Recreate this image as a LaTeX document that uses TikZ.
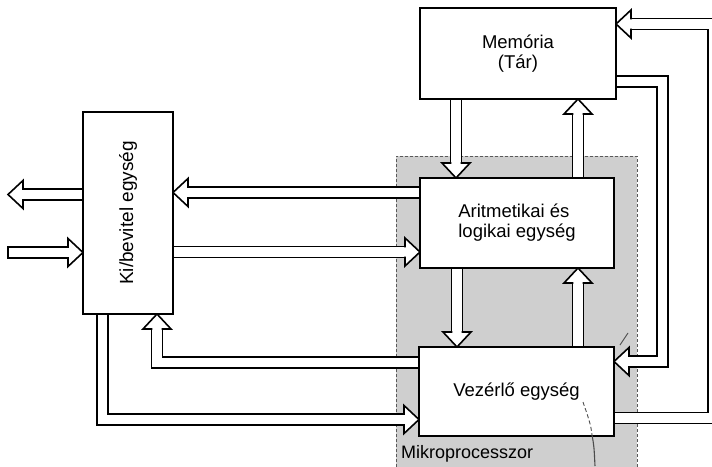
\documentclass[tikz,border=0pt]{standalone}
\usepackage{fontspec}
\setmainfont{Liberation Sans}
\usetikzlibrary{calc}
\pgfdeclarelayer{bg}
\pgfdeclarelayer{mid}
\pgfsetlayers{bg,mid,main}
\tikzset{
  box/.style={draw=black, line width=2.4pt, fill=white, inner sep=0pt, outer sep=0pt,
    font=\fontsize{18.5}{20}\selectfont},
  lbl/.style={inner sep=0pt, font=\fontsize{18}{20}\selectfont},
  arrowline/.style={draw=black, line width=1.6pt, line join=miter},
  shaft/.style={draw=black, line width=1.6pt, double=white, double distance=9.4pt, line join=miter},
  pics/ahead/.style={code={
    \filldraw[arrowline, fill=white] (-15,4.7) -- (-15,14) -- (0,0) -- (-15,-14) -- (-15,-4.7);}},
  cpu/.style={fill=black!19, draw=black!65, line width=0.9pt, dash pattern=on 3pt off 2pt,
    inner sep=0pt, outer sep=0pt},
  penmark/.style={draw=black!70, line width=0.9pt},
}
\begin{document}
\begin{tikzpicture}[x=1pt, y=-1pt]
\useasboundingbox (0,0) rectangle (712,466);

% units
\node[box, align=center, minimum width=196pt, minimum height=91pt] (mem) at (518,53.5) {Memória\\(Tár)};
\node[box, align=left, minimum width=194pt, minimum height=90pt] (alu) at (517,223) {Aritmetikai és\\logikai egység};
\node[box, minimum width=195pt, minimum height=89pt] (ctl) at (516.5,391.5) {Vezérlő egység};
\node[box, minimum width=90pt, minimum height=202pt] (io) at (128,213) {};
\node[lbl, rotate=90, font=\fontsize{19}{21}\selectfont] (iolbl) at (io.center) {Ki/bevitel egység};
\node[lbl, anchor=base west] (cpulbl) at (401,458) {Mikroprocesszor};

% pen marks
\draw[penmark, dash pattern=on 4pt off 2.5pt] (583,402) .. controls (587,414) and (591,424) .. (592,435);
\draw[penmark, line width=1.1pt] (592,435) .. controls (594,446) .. (595,466);
\draw[penmark] (620,345) -- (628,333);

% page and microprocessor area
\begin{pgfonlayer}{bg}
\fill[white] (0,0) rectangle (712,466);
\node[cpu, draw, anchor=north west, minimum width=241pt, minimum height=330pt] (cpu) at (396,156) {};
\end{pgfonlayer}

\begin{pgfonlayer}{mid}
\coordinate (outtip) at (8,194.5);
\coordinate (intail) at (8,252.5);

% memory <-> ALU
\draw[shaft] ($(mem.south west)+(36,0)$) -- ($(alu.north west)+(36,-15)$);
\pic[rotate=-90] at ($(alu.north west)+(36,0)$) {ahead};
\draw[shaft] ($(alu.north west)+(158,0)$) -- ($(mem.south west)+(158,15)$);
\pic[rotate=90] at ($(mem.south west)+(158,0)$) {ahead};

% ALU <-> I/O
\draw[shaft] ($(alu.west)+(0,-30.5)$) -- ($(io.east)+(15,-20.5)$);
\pic[rotate=180] at ($(io.east)+(0,-20.5)$) {ahead};
\draw[shaft] ($(io.east)+(0,39)$) -- ($(alu.west)+(-15,29)$);
\pic at ($(alu.west)+(0,29)$) {ahead};

% I/O <-> outside
\draw[shaft] ($(io.west)+(0,-18.5)$) -- ($(outtip)+(15,0)$);
\pic[rotate=180] at (outtip) {ahead};
\draw[shaft] (intail) -- ($(io.west)+(-15,39.5)$);
\pic at ($(io.west)+(0,39.5)$) {ahead};
\draw[arrowline] ($(intail)+(0,-6.3)$) -- ($(intail)+(0,6.3)$);

% control <-> I/O
\draw[shaft] ($(ctl.west)+(0,-29)$) -| ($(io.south)+(29,15)$);
\pic[rotate=90] at ($(io.south)+(29,0)$) {ahead};
\draw[shaft] ($(io.south)+(-25.5,0)$) |- ($(ctl.west)+(-15,28)$);
\pic at ($(ctl.west)+(0,28)$) {ahead};

% memory <-> control
\draw[shaft] ($(mem.east)+(0,28)$) -| ($(ctl.east)+(48.5,-30)$) -- ($(ctl.east)+(15,-30)$);
\pic[rotate=180] at ($(ctl.east)+(0,-30)$) {ahead};
\draw[shaft] ($(ctl.east)+(0,26.5)$) -| ($(mem.east)+(97.5,-29.5)$) -- ($(mem.east)+(15,-29.5)$);
\pic[rotate=180] at ($(mem.east)+(0,-29.5)$) {ahead};

% ALU <-> control
\draw[shaft] ($(alu.south)+(-60,0)$) -- ($(ctl.north)+(-59.5,-15)$);
\pic[rotate=-90] at ($(ctl.north)+(-59.5,0)$) {ahead};
\draw[shaft] ($(ctl.north)+(61.5,0)$) -- ($(alu.south)+(61,15)$);
\pic[rotate=90] at ($(alu.south)+(61,0)$) {ahead};
\end{pgfonlayer}
\end{tikzpicture}
\end{document}
